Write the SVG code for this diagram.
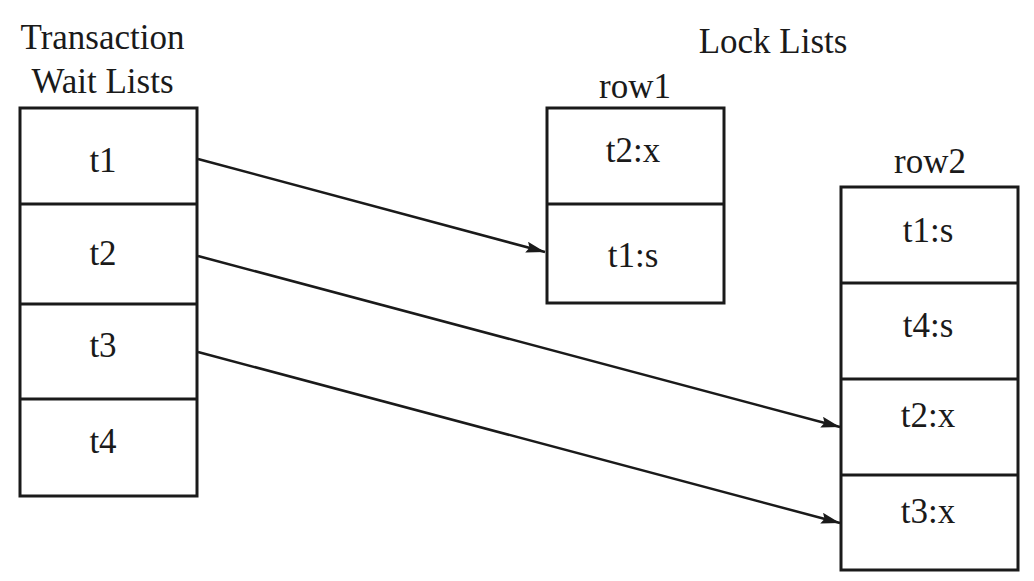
<svg xmlns="http://www.w3.org/2000/svg" width="1034" height="581" viewBox="0 0 1034 581">
<style>
  text { font-family: "Liberation Serif", "Times New Roman", serif; font-size: 35px; fill: #1a1a1a; text-anchor: middle; }
  .box { fill: #ffffff; stroke: #1a1a1a; stroke-width: 3; }
  .div { stroke: #1a1a1a; stroke-width: 3; }
  .conn { stroke: #1a1a1a; stroke-width: 2.5; fill: none; marker-end: url(#arrow); }
</style>
<defs>
  <marker id="arrow" markerUnits="userSpaceOnUse" markerWidth="22" markerHeight="12" refX="19" refY="5.5" orient="auto">
    <path d="M0,0 L19,5.5 L0,11 L3,5.5 z" fill="#1a1a1a"/>
  </marker>
</defs>
<rect width="1034" height="581" fill="#ffffff"/>

<g id="titles">
  <text x="102.5" y="49">Transaction</text>
  <text x="102.5" y="93">Wait Lists</text>
  <text x="773" y="53">Lock Lists</text>
</g>

<g id="wait-list">
  <rect class="box" x="20" y="108" width="177" height="388"/>
  <line class="div" x1="20" y1="204" x2="197" y2="204"/>
  <line class="div" x1="20" y1="304" x2="197" y2="304"/>
  <line class="div" x1="20" y1="399" x2="197" y2="399"/>
  <text x="103" y="172">t1</text>
  <text x="103" y="265">t2</text>
  <text x="103" y="357">t3</text>
  <text x="103" y="453">t4</text>
</g>

<g id="row1">
  <text x="635" y="98">row1</text>
  <rect class="box" x="547" y="108" width="177" height="195"/>
  <line class="div" x1="547" y1="204" x2="724" y2="204"/>
  <text x="633" y="162">t2:x</text>
  <text x="633" y="267">t1:s</text>
</g>

<g id="row2">
  <text x="930" y="173">row2</text>
  <rect class="box" x="841" y="187" width="177" height="383"/>
  <line class="div" x1="841" y1="283" x2="1018" y2="283"/>
  <line class="div" x1="841" y1="379" x2="1018" y2="379"/>
  <line class="div" x1="841" y1="475" x2="1018" y2="475"/>
  <text x="928" y="242">t1:s</text>
  <text x="928" y="337">t4:s</text>
  <text x="928" y="427">t2:x</text>
  <text x="928" y="523">t3:x</text>
</g>

<g id="connectors">
  <line class="conn" x1="198" y1="159" x2="545" y2="252"/>
  <line class="conn" x1="198" y1="256" x2="840" y2="427"/>
  <line class="conn" x1="198" y1="352" x2="840" y2="523"/>
</g>
</svg>
